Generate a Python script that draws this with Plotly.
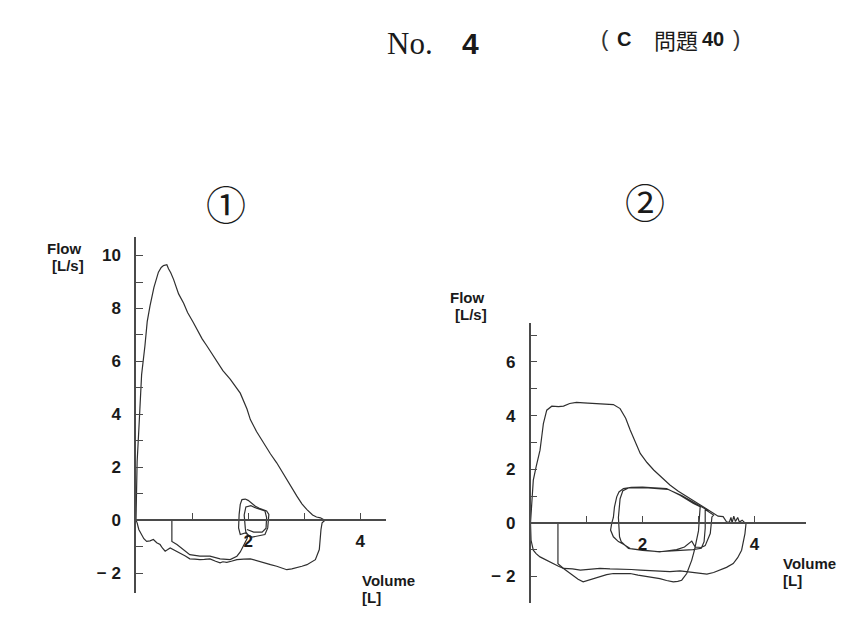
import plotly.graph_objects as go

# page body has an 8px margin: the figure is sized to fill the rest of the window
OFF = 8
W, H = 864 - OFF, 635 - OFF

# ---------------- data: panel 1 ----------------
p1_exp_x = [0, 0.01, 0.02, 0.05, 0.07, 0.1, 0.16, 0.2, 0.25, 0.32, 0.4, 0.45, 0.49, 0.55, 0.58, 0.62,
            0.67, 0.72, 0.76, 0.85, 0.92, 1.02, 1.1, 1.18, 1.26, 1.35, 1.44, 1.55, 1.68, 1.78, 1.86,
            1.98, 2.04, 2.15, 2.27, 2.4, 2.51, 2.6, 2.69, 2.78, 2.87, 2.96, 3.05, 3.15, 3.22, 3.29, 3.37]
p1_exp_y = [0, 1.0, 2.2, 3.4, 4.2, 5.5, 6.6, 7.5, 8.1, 8.8, 9.37, 9.55, 9.62, 9.65, 9.5, 9.35,
            9.1, 8.8, 8.55, 8.2, 7.85, 7.48, 7.15, 6.85, 6.6, 6.3, 6.0, 5.65, 5.33, 5.05, 4.8,
            4.2, 3.8, 3.35, 2.93, 2.5, 2.17, 1.85, 1.54, 1.2, 0.91, 0.62, 0.4, 0.2, 0.12, 0.09, 0]

p1_insp_x = [3.37, 3.32, 3.3, 3.29, 3.27, 3.2, 3.12, 3.05, 2.96, 2.87, 2.78, 2.69, 2.6, 2.51, 2.4,
             2.27, 2.15, 2.04, 1.92, 1.8, 1.7, 1.62, 1.55, 1.5, 1.42, 1.32, 1.22, 1.14, 1.05, 0.96,
             0.88, 0.79, 0.7, 0.61, 0.56, 0.52, 0.47, 0.43, 0.37, 0.31, 0.25, 0.19, 0.14, 0.1, 0.05,
             0.02, 0]
p1_insp_y = [0, -0.1, -0.35, -0.6, -1.11, -1.49, -1.6, -1.68, -1.74, -1.8, -1.84, -1.87, -1.8, -1.74,
             -1.68, -1.61, -1.52, -1.46, -1.47, -1.49, -1.55, -1.59, -1.57, -1.61, -1.55, -1.46, -1.48,
             -1.49, -1.47, -1.46, -1.35, -1.24, -1.15, -1.05, -1.12, -1.17, -1.05, -0.92, -0.85, -0.73,
             -0.78, -0.8, -0.7, -0.54, -0.35, -0.1, 0]

p1_tidal_x = [0.64, 0.64, 0.73, 0.85, 0.96, 1.05, 1.14, 1.32, 1.5, 1.68, 1.8, 1.86, 1.92, 1.98, 2.0,
              1.95, 1.86, 1.83, 1.84, 1.86, 1.89, 1.95, 2.0, 2.07, 2.13, 2.2, 2.27, 2.33, 2.37, 2.36,
              2.35, 2.3, 2.18, 2.07, 2.0,
              1.96, 1.95, 1.93, 1.96, 2.05, 2.15, 2.3, 2.33, 2.32, 2.25, 2.1, 1.98]
p1_tidal_y = [0, -0.8, -0.92, -1.11, -1.3, -1.33, -1.36, -1.36, -1.46, -1.49, -1.36, -1.2, -0.95,
              -0.7, -0.55,
              -0.48, -0.54, -0.29, 0.22, 0.6, 0.78, 0.8, 0.75, 0.62, 0.53, 0.45, 0.41, 0.35, 0.22, -0.05,
              -0.29, -0.54, -0.6, -0.64, -0.55,
              -0.45, -0.3, 0.2, 0.5, 0.55, 0.45, 0.35, 0.1, -0.3, -0.45, -0.45, -0.35]

# ---------------- data: panel 2 ----------------
p2_forced_x = [0, 0.02, 0.05, 0.1, 0.17, 0.2, 0.23, 0.29, 0.38, 0.5, 0.59, 0.7, 0.82, 0.95, 1.12, 1.3,
               1.48, 1.6, 1.7, 1.78, 1.87, 1.96, 2.08, 2.2, 2.35, 2.49, 2.64, 2.79, 2.94, 3.09, 3.18,
               3.27, 3.35, 3.44, 3.5, 3.55, 3.58, 3.6, 3.63, 3.66, 3.7, 3.73, 3.78, 3.83,
               3.85, 3.83, 3.8, 3.77, 3.7, 3.62, 3.5, 3.38, 3.27, 3.15, 3.03, 2.91, 2.79, 2.67, 2.49,
               2.31, 2.15, 1.96, 1.8, 1.6, 1.42, 1.24, 1.05, 0.89, 0.75, 0.59, 0.5, 0.41, 0.3, 0.17,
               0.1, 0.05, 0.01, 0, 0]
p2_forced_y = [0, 0.8, 1.59, 2.09, 2.71, 3.2, 3.7, 4.2, 4.35, 4.33, 4.35, 4.45, 4.49, 4.47, 4.45, 4.44,
               4.41, 4.26, 3.9, 3.46, 3.0, 2.59, 2.25, 1.97, 1.68, 1.41, 1.18, 0.98, 0.78, 0.58, 0.45,
               0.33, 0.25, 0.23, 0.04, 0.02, 0.2, 0.0, 0.25, 0.05, 0.2, 0.03, 0.1, 0,
               0, -0.4, -0.7, -1.02, -1.3, -1.52, -1.66, -1.76, -1.85, -1.91, -1.88, -1.86, -1.83, -1.79,
               -1.82, -1.79, -1.77, -1.76, -1.74, -1.74, -1.72, -1.7, -1.74, -1.76, -1.72, -1.7, -1.62,
               -1.52, -1.4, -1.27, -1.15, -1.02, -0.65, -0.3, 0]

p2_tidal_x = [0.49, 0.49, 0.59, 0.68, 0.76, 0.85, 0.94, 1.06, 1.15, 1.24, 1.36, 1.48, 1.6, 1.78, 1.92,
              2.07, 2.2, 2.31, 2.43, 2.55, 2.63, 2.7, 2.79, 2.84, 2.88, 2.93, 2.97, 3.0, 3.01, 3.03,
              3.03, 2.91, 2.67, 2.43, 2.2, 2.0, 1.8, 1.66, 1.58, 1.54, 1.5, 1.48, 1.45, 1.43, 1.48,
              1.57, 1.66, 1.78, 1.92, 2.07, 2.2, 2.31, 2.45, 2.61, 2.75, 2.82, 2.88, 2.94, 3.05, 3.12,
              3.17, 3.21, 3.24, 3.27,
              3.12, 3.12, 3.1, 3.05, 2.9, 2.6, 2.3, 2.0, 1.75, 1.62, 1.59, 1.57, 1.6, 1.65, 1.75, 2.1,
              2.45, 2.7, 2.95, 3.1, 3.18]
p2_tidal_y = [0, -1.52, -1.7, -1.85, -1.95, -2.1, -2.2, -2.13, -2.06, -2.01, -1.93, -1.89, -1.9, -1.89,
              -1.95, -1.99, -2.05, -2.08, -2.15, -2.2, -2.18, -2.14, -1.89, -1.6, -1.39, -1.0, -0.65,
              -0.3, 0, 0.47,
              0.6, 0.72, 1.03, 1.28, 1.32, 1.33, 1.32, 1.28, 1.15, 0.97, 0.6, 0.2, -0.02, -0.27, -0.52,
              -0.7, -0.8, -0.96, -1.0, -1.02, -1.06, -1.08, -1.04, -1.0, -0.9, -0.77, -0.68, -0.9, -0.92,
              -0.85, -0.6, -0.4, 0.22, 0.29,
              0.5, -0.2, -0.7, -0.95, -1.0, -1.04, -1.07, -1.03, -0.95, -0.7, -0.52, 0.2, 0.9, 1.2, 1.3,
              1.3, 1.25, 1.02, 0.72, 0.54, 0.45]

# axis extents / ticks
p1_xrange = [0, 4.46]
p1_yrange = [-2.75, 10.7]
p1_yticks = list(range(-2, 11))
p1_xticks = [1, 2, 3, 4]
p2_xrange = [0, 4.92]
p2_yrange = [-3.0, 7.44]
p2_yticks = list(range(-3, 8))
p2_xticks = [1, 2, 3, 4]


def ylab(v, shown):
    if v not in shown:
        return ""
    return "\u2212 " + str(-v) if v < 0 else str(v)


p1_ylabels = [ylab(v, [-2, 0, 2, 4, 6, 8, 10]) for v in p1_yticks]
p2_ylabels = [ylab(v, [-2, 0, 2, 4, 6]) for v in p2_yticks]
x_labels = ["", "2", "", "4"]


# window pixel -> paper fraction
def fx(px):
    return (px - OFF) / W


def fy(py):
    return 1 - (py - OFF) / H


p1_dom_x = [fx(136), fx(386)]
p1_dom_y = [fy(593), fy(237)]
p2_dom_x = [fx(530.5), fx(806)]
p2_dom_y = [fy(603.3), fy(323.3)]


def zero_pos(dom, rng):
    return dom[0] + (0 - rng[0]) / (rng[1] - rng[0]) * (dom[1] - dom[0])


LINE = "#2f2f2f"
AX = "#4a4a4a"
tickfont = dict(family="Liberation Sans, Arial, sans-serif", size=17, color="#1a1a1a", weight="bold")

fig = go.Figure()
trace_style = dict(mode="lines", line=dict(color=LINE, width=1.2), hoverinfo="skip", showlegend=False)
fig.add_trace(go.Scatter(x=p1_exp_x, y=p1_exp_y, xaxis="x", yaxis="y", **trace_style))
fig.add_trace(go.Scatter(x=p1_insp_x, y=p1_insp_y, xaxis="x", yaxis="y", **trace_style))
fig.add_trace(go.Scatter(x=p1_tidal_x, y=p1_tidal_y, xaxis="x", yaxis="y", **trace_style))
fig.add_trace(go.Scatter(x=p2_forced_x, y=p2_forced_y, xaxis="x2", yaxis="y2", **trace_style))
fig.add_trace(go.Scatter(x=p2_tidal_x, y=p2_tidal_y, xaxis="x2", yaxis="y2", **trace_style))

common_x = dict(showline=True, linecolor=AX, linewidth=1.5, ticks="inside", ticklen=6, tickwidth=1.2,
                tickcolor=AX, showgrid=False, zeroline=False, tickfont=tickfont, tickmode="array",
                ticklabelstandoff=6, fixedrange=True)
common_y = dict(showline=True, linecolor=AX, linewidth=1.5, ticks="inside", ticklen=7, tickwidth=1.2,
                tickcolor=AX, showgrid=False, zeroline=False, tickfont=tickfont, tickmode="array",
                ticklabelstandoff=10, fixedrange=True)

fig.update_layout(
    width=W, height=H, margin=dict(l=0, r=0, t=0, b=0),
    paper_bgcolor="white", plot_bgcolor="rgba(0,0,0,0)",
    xaxis=dict(domain=p1_dom_x, range=p1_xrange, anchor="free", position=zero_pos(p1_dom_y, p1_yrange),
               tickvals=p1_xticks, ticktext=x_labels, **common_x),
    yaxis=dict(domain=p1_dom_y, range=p1_yrange, anchor="x", tickvals=p1_yticks, ticktext=p1_ylabels, **common_y),
    xaxis2=dict(domain=p2_dom_x, range=p2_xrange, anchor="free", position=zero_pos(p2_dom_y, p2_yrange),
                tickvals=p2_xticks, ticktext=x_labels, **common_x),
    yaxis2=dict(domain=p2_dom_y, range=p2_yrange, anchor="x2", tickvals=p2_yticks, ticktext=p2_ylabels, **common_y),
)

lab = dict(family="Liberation Sans, Arial, sans-serif", size=15, color="#1a1a1a", weight="bold")
ann = []


def add(text, px, py, font, xanchor="left", yanchor="middle"):
    ann.append(dict(text=text, x=fx(px), y=fy(py), xref="paper", yref="paper", showarrow=False,
                    xanchor=xanchor, yanchor=yanchor, font=font))


add("Flow", 45, 248, lab)
add("[L/s]", 50, 266, lab)
add("Flow", 448, 297, lab)
add("[L/s]", 453, 315, lab)
add("Volume", 360, 580, lab)
add("[L]", 360, 597, lab)
add("Volume", 781, 563, lab)
add("[L]", 781, 580, lab)

circ = dict(family="Noto Sans CJK JP", size=40, color="#1a1a1a")
add("\u2460", 226, 203, circ, xanchor="center")
add("\u2461", 645, 201, circ, xanchor="center")

hdr_sans_b = dict(family="Liberation Sans, Arial, sans-serif", size=20, color="#1a1a1a", weight="bold")
paren = dict(family="Liberation Sans, Arial, sans-serif", size=22, color="#333333")
add("No.", 410, 43, dict(family="Liberation Serif, Times New Roman, serif", size=31, color="#1a1a1a"), xanchor="center")
add("4", 470, 43, dict(family="Liberation Sans, Arial, sans-serif", size=30, color="#1a1a1a", weight="bold"), xanchor="center")
add("(", 605, 39, paren, xanchor="center")
add("C", 624, 39, hdr_sans_b, xanchor="center")
add("問題", 676, 39, dict(family="Noto Sans CJK JP", size=22, color="#1a1a1a"), xanchor="center")
add("40", 713, 39, hdr_sans_b, xanchor="center")
add(")", 736, 39, paren, xanchor="center")

fig.update_layout(annotations=ann)
fig.write_html("out.html")
